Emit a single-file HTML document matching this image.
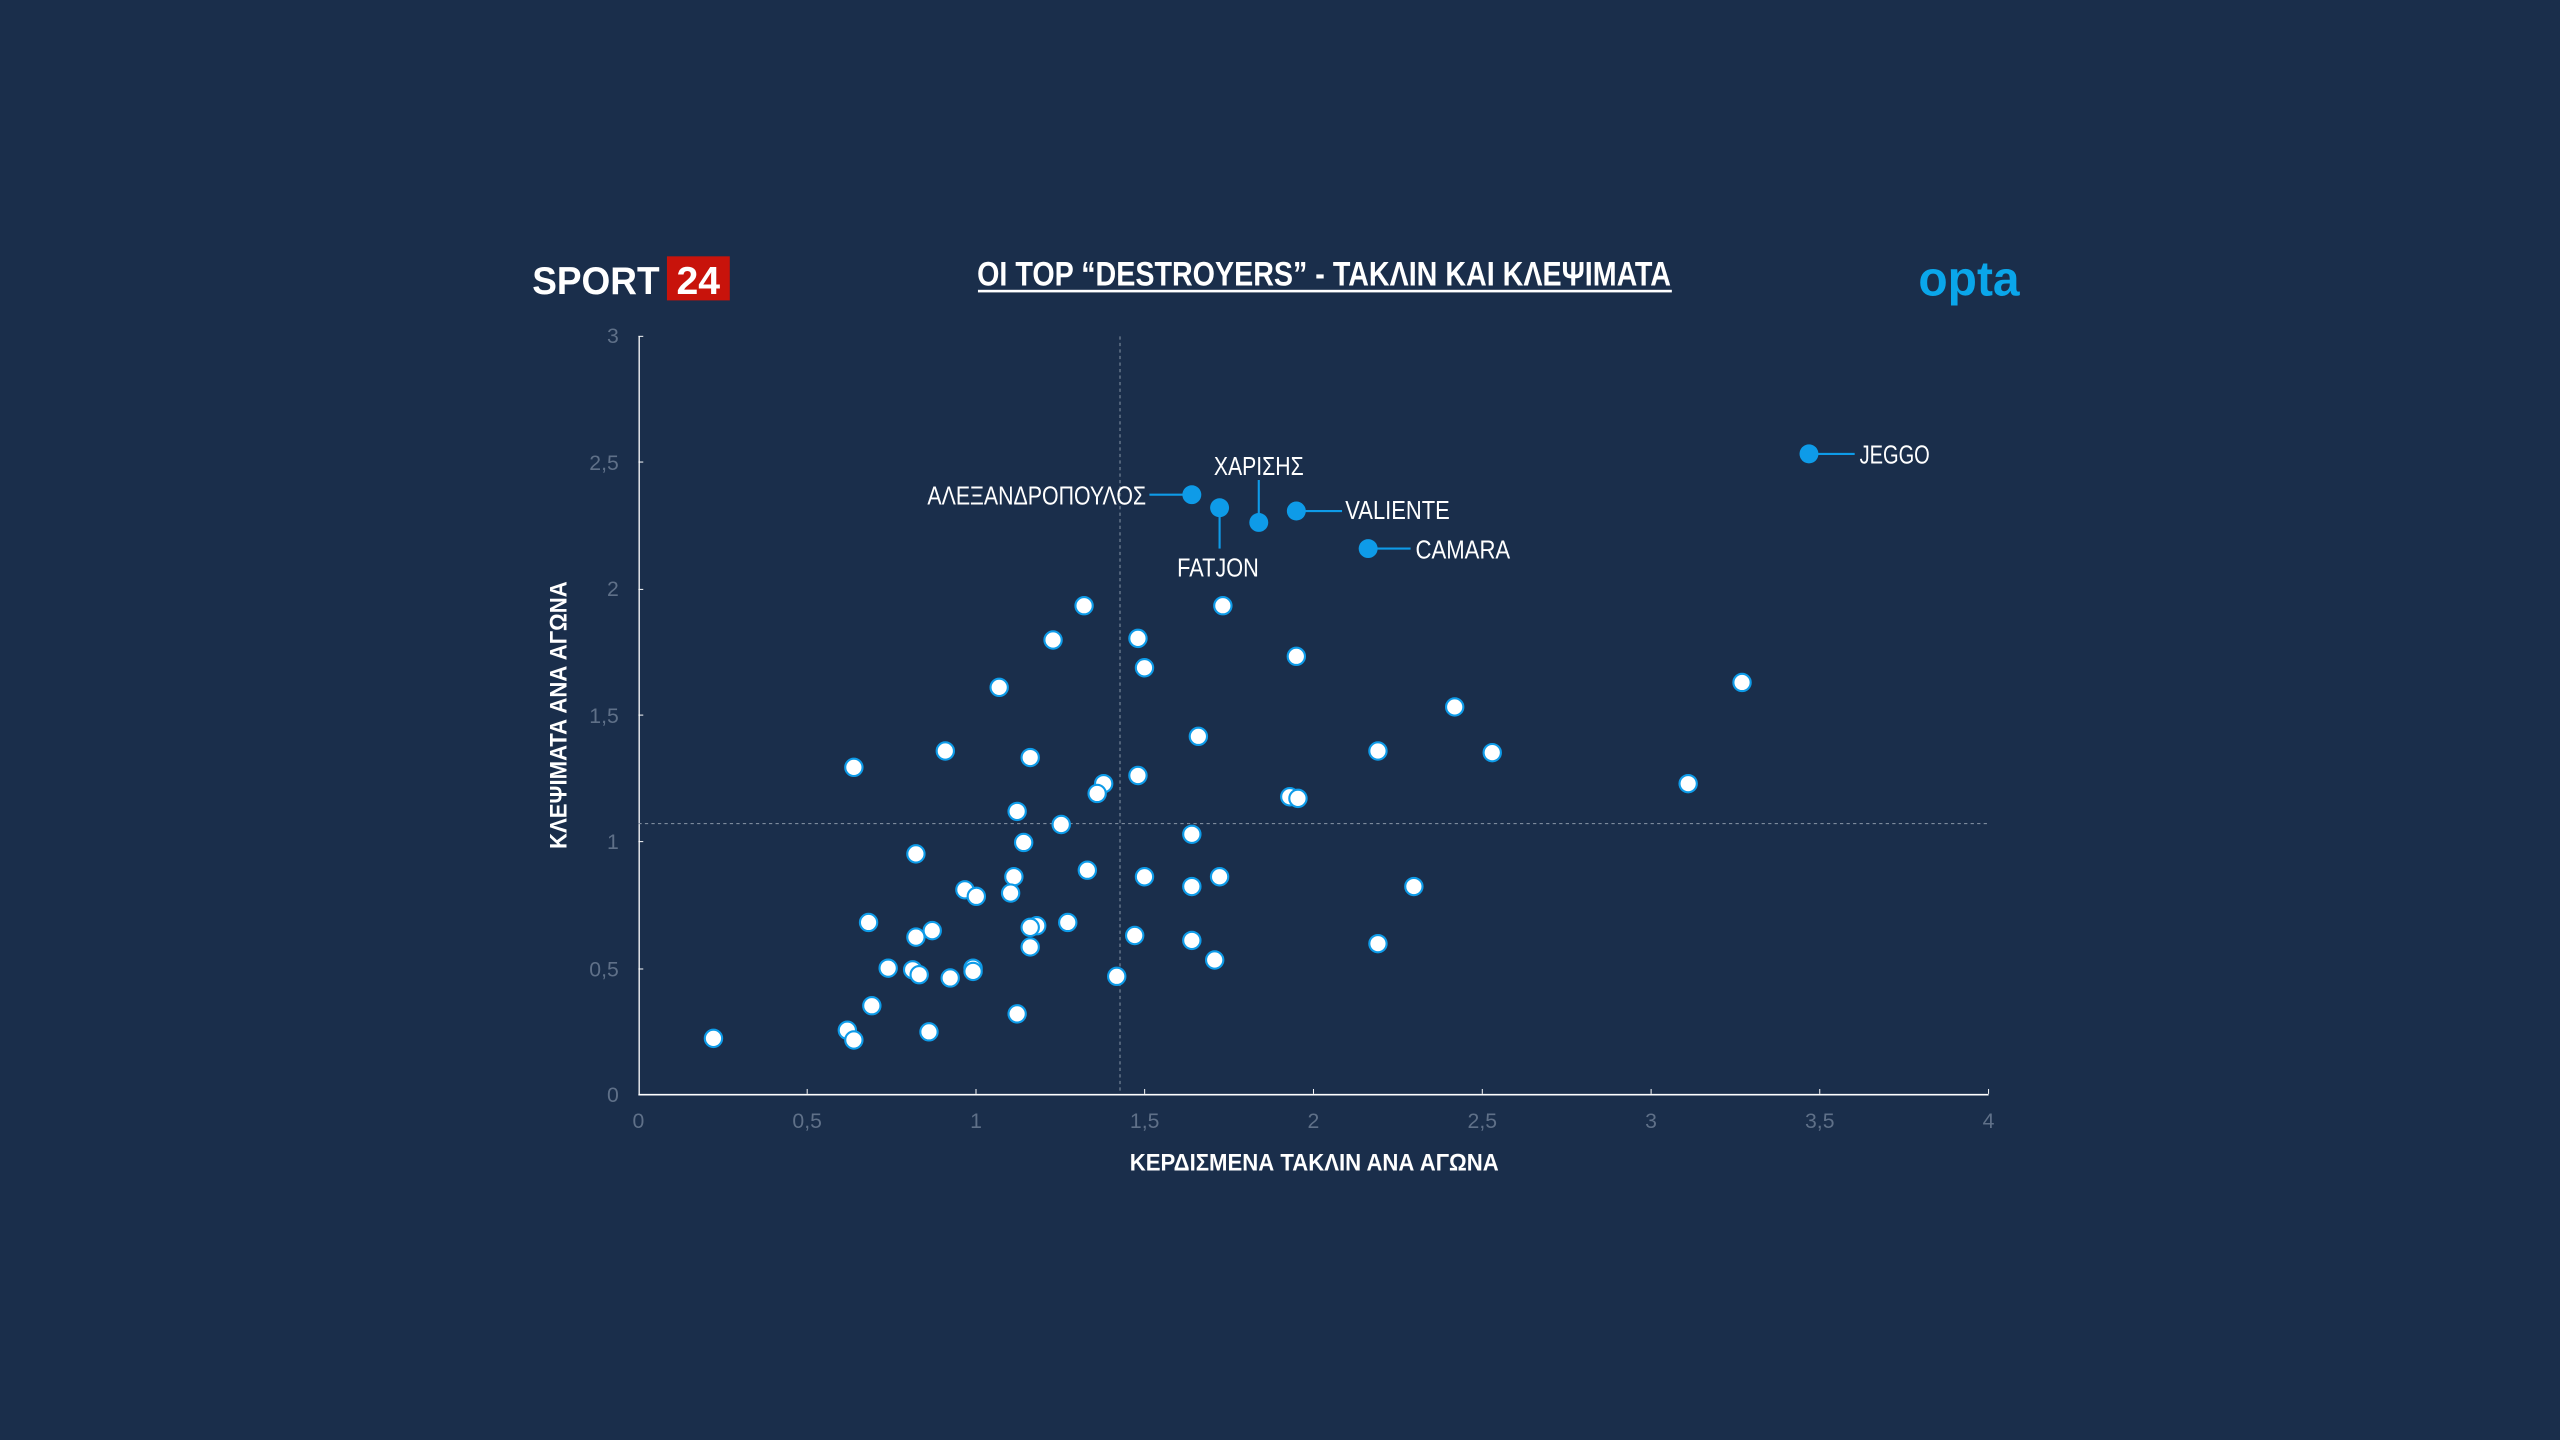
<!DOCTYPE html>
<html><head><meta charset="utf-8"><style>
html,body{margin:0;padding:0;background:#1a2e4b;}
svg{display:block;}
text{font-family:"Liberation Sans Narrow","Liberation Sans","DejaVu Sans Condensed",sans-serif;}
</style></head><body>
<svg width="2560" height="1440" viewBox="0 0 1568 882" xmlns="http://www.w3.org/2000/svg">
<rect width="1568" height="882" fill="#1a2e4b"/>
<!-- logos -->
<text x="326" y="180" font-family="Liberation Sans" font-weight="bold" font-size="24" fill="#fff" textLength="78" lengthAdjust="spacingAndGlyphs">SPORT</text>
<rect x="408.5" y="157" width="38.5" height="27" fill="#c8130b"/>
<text x="427.7" y="180" text-anchor="middle" font-family="Liberation Sans" font-weight="bold" font-size="24" fill="#fff">24</text>
<text x="1175" y="181" font-family="Liberation Sans" font-weight="bold" font-size="30" fill="#0aa6ea" textLength="62" lengthAdjust="spacingAndGlyphs">opta</text>
<!-- title -->
<text x="811" y="175" text-anchor="middle" font-weight="bold" font-size="21" fill="#fff" textLength="425" lengthAdjust="spacingAndGlyphs">OI TOP “DESTROYERS” - ΤΑΚΛΙΝ ΚΑΙ ΚΛΕΨΙΜΑΤΑ</text>
<rect x="599" y="177.5" width="425" height="1.6" fill="#fff"/>
<!-- axes -->
<line x1="391.5" y1="206" x2="391.5" y2="670.5" stroke="#fff" stroke-width="0.8"/>
<line x1="391" y1="670.5" x2="1218" y2="670.5" stroke="#fff" stroke-width="1"/>
<line x1="686" y1="206" x2="686" y2="670" stroke="#8a97a8" stroke-width="0.6" stroke-dasharray="2,2"/>
<line x1="391" y1="504.5" x2="1218" y2="504.5" stroke="#8a97a8" stroke-width="0.6" stroke-dasharray="2,2"/>
<g stroke="#fff" stroke-width="0.6">
<line x1="494.4" y1="667" x2="494.4" y2="670"/><line x1="597.8" y1="667" x2="597.8" y2="670"/><line x1="701.1" y1="667" x2="701.1" y2="670"/><line x1="804.5" y1="667" x2="804.5" y2="670"/><line x1="907.9" y1="667" x2="907.9" y2="670"/><line x1="1011.3" y1="667" x2="1011.3" y2="670"/><line x1="1114.6" y1="667" x2="1114.6" y2="670"/><line x1="1218" y1="667" x2="1218" y2="670"/>
<line x1="391" y1="593.5" x2="394" y2="593.5"/><line x1="391" y1="515.5" x2="394" y2="515.5"/><line x1="391" y1="438" x2="394" y2="438"/><line x1="391" y1="361" x2="394" y2="361"/><line x1="391" y1="283" x2="394" y2="283"/><line x1="391" y1="206" x2="394" y2="206"/>
</g>
<g fill="#5f7088" font-size="13" text-anchor="middle">
<text x="391" y="691">0</text><text x="494.4" y="691">0,5</text><text x="597.8" y="691">1</text><text x="701.1" y="691">1,5</text><text x="804.5" y="691">2</text><text x="907.9" y="691">2,5</text><text x="1011.3" y="691">3</text><text x="1114.6" y="691">3,5</text><text x="1218" y="691">4</text>
</g>
<g fill="#5f7088" font-size="13" text-anchor="end">
<text x="379" y="675">0</text><text x="379" y="598">0,5</text><text x="379" y="520">1</text><text x="379" y="443">1,5</text><text x="379" y="365">2</text><text x="379" y="288">2,5</text><text x="379" y="210">3</text>
</g>
<text x="805" y="717" text-anchor="middle" font-weight="bold" font-size="15" fill="#fff" textLength="226" lengthAdjust="spacingAndGlyphs">ΚΕΡΔΙΣΜΕΝΑ ΤΑΚΛΙΝ ΑΝΑ ΑΓΩΝΑ</text>
<text transform="translate(347,438) rotate(-90)" text-anchor="middle" font-weight="bold" font-size="15" fill="#fff" textLength="164" lengthAdjust="spacingAndGlyphs">ΚΛΕΨΙΜΑΤΑ ΑΝΑ ΑΓΩΝΑ</text>
<!-- points -->
<g fill="#fff" stroke="#0e9be8" stroke-width="1.3">
<circle cx="437" cy="636" r="5.3"/><circle cx="523" cy="470" r="5.3"/><circle cx="579" cy="460" r="5.3"/><circle cx="612" cy="421" r="5.3"/><circle cx="645" cy="392" r="5.3"/><circle cx="664" cy="371" r="5.3"/><circle cx="697" cy="391" r="5.3"/><circle cx="701" cy="409" r="5.3"/><circle cx="749" cy="371" r="5.3"/><circle cx="794" cy="402" r="5.3"/><circle cx="734" cy="451" r="5.3"/><circle cx="631" cy="464" r="5.3"/><circle cx="623" cy="497" r="5.3"/><circle cx="627" cy="516" r="5.3"/><circle cx="650" cy="505" r="5.3"/><circle cx="676" cy="480" r="5.3"/><circle cx="672" cy="486" r="5.3"/><circle cx="697" cy="475" r="5.3"/><circle cx="891" cy="433" r="5.3"/><circle cx="844" cy="460" r="5.3"/><circle cx="914" cy="461" r="5.3"/><circle cx="1067" cy="418" r="5.3"/><circle cx="1034" cy="480" r="5.3"/><circle cx="790" cy="488" r="5.3"/><circle cx="795" cy="489" r="5.3"/><circle cx="730" cy="511" r="5.3"/><circle cx="561" cy="523" r="5.3"/><circle cx="666" cy="533" r="5.3"/><circle cx="701" cy="537" r="5.3"/><circle cx="747" cy="537" r="5.3"/><circle cx="730" cy="543" r="5.3"/><circle cx="866" cy="543" r="5.3"/><circle cx="591" cy="545" r="5.3"/><circle cx="598" cy="549" r="5.3"/><circle cx="621" cy="537" r="5.3"/><circle cx="619" cy="547" r="5.3"/><circle cx="532" cy="565" r="5.3"/><circle cx="571" cy="570" r="5.3"/><circle cx="561" cy="574" r="5.3"/><circle cx="635" cy="567" r="5.3"/><circle cx="631" cy="568" r="5.3"/><circle cx="654" cy="565" r="5.3"/><circle cx="695" cy="573" r="5.3"/><circle cx="730" cy="576" r="5.3"/><circle cx="844" cy="578" r="5.3"/><circle cx="631" cy="580" r="5.3"/><circle cx="544" cy="593" r="5.3"/><circle cx="559" cy="594" r="5.3"/><circle cx="563" cy="597" r="5.3"/><circle cx="582" cy="599" r="5.3"/><circle cx="596" cy="593" r="5.3"/><circle cx="596" cy="595" r="5.3"/><circle cx="684" cy="598" r="5.3"/><circle cx="744" cy="588" r="5.3"/><circle cx="534" cy="616" r="5.3"/><circle cx="623" cy="621" r="5.3"/><circle cx="519" cy="631" r="5.3"/><circle cx="569" cy="632" r="5.3"/><circle cx="523" cy="637" r="5.3"/>
</g>
<!-- highlighted -->
<g stroke="#0e9be8" stroke-width="1.3">
<line x1="1108" y1="278" x2="1136" y2="278"/>
<line x1="704" y1="303" x2="730" y2="303"/>
<line x1="747" y1="311" x2="747" y2="336"/>
<line x1="771" y1="320" x2="771" y2="294"/>
<line x1="794" y1="313" x2="822" y2="313"/>
<line x1="838" y1="336" x2="864" y2="336"/>
</g>
<g fill="#0e9be8">
<circle cx="1108" cy="278" r="5.8"/><circle cx="730" cy="303" r="5.8"/><circle cx="747" cy="311" r="5.8"/><circle cx="771" cy="320" r="5.8"/><circle cx="794" cy="313" r="5.8"/><circle cx="838" cy="336" r="5.8"/>
</g>
<g fill="#fff" font-size="16">
<text x="1139" y="284" textLength="43" lengthAdjust="spacingAndGlyphs">JEGGO</text>
<text x="702" y="309" text-anchor="end" textLength="134" lengthAdjust="spacingAndGlyphs">ΑΛΕΞΑΝΔΡΟΠΟΥΛΟΣ</text>
<text x="746" y="353" text-anchor="middle" textLength="50" lengthAdjust="spacingAndGlyphs">FATJON</text>
<text x="771" y="291" text-anchor="middle" textLength="55" lengthAdjust="spacingAndGlyphs">ΧΑΡΙΣΗΣ</text>
<text x="824" y="318" textLength="64" lengthAdjust="spacingAndGlyphs">VALIENTE</text>
<text x="867" y="342" textLength="58" lengthAdjust="spacingAndGlyphs">CAMARA</text>
</g>
</svg>
</body></html>
